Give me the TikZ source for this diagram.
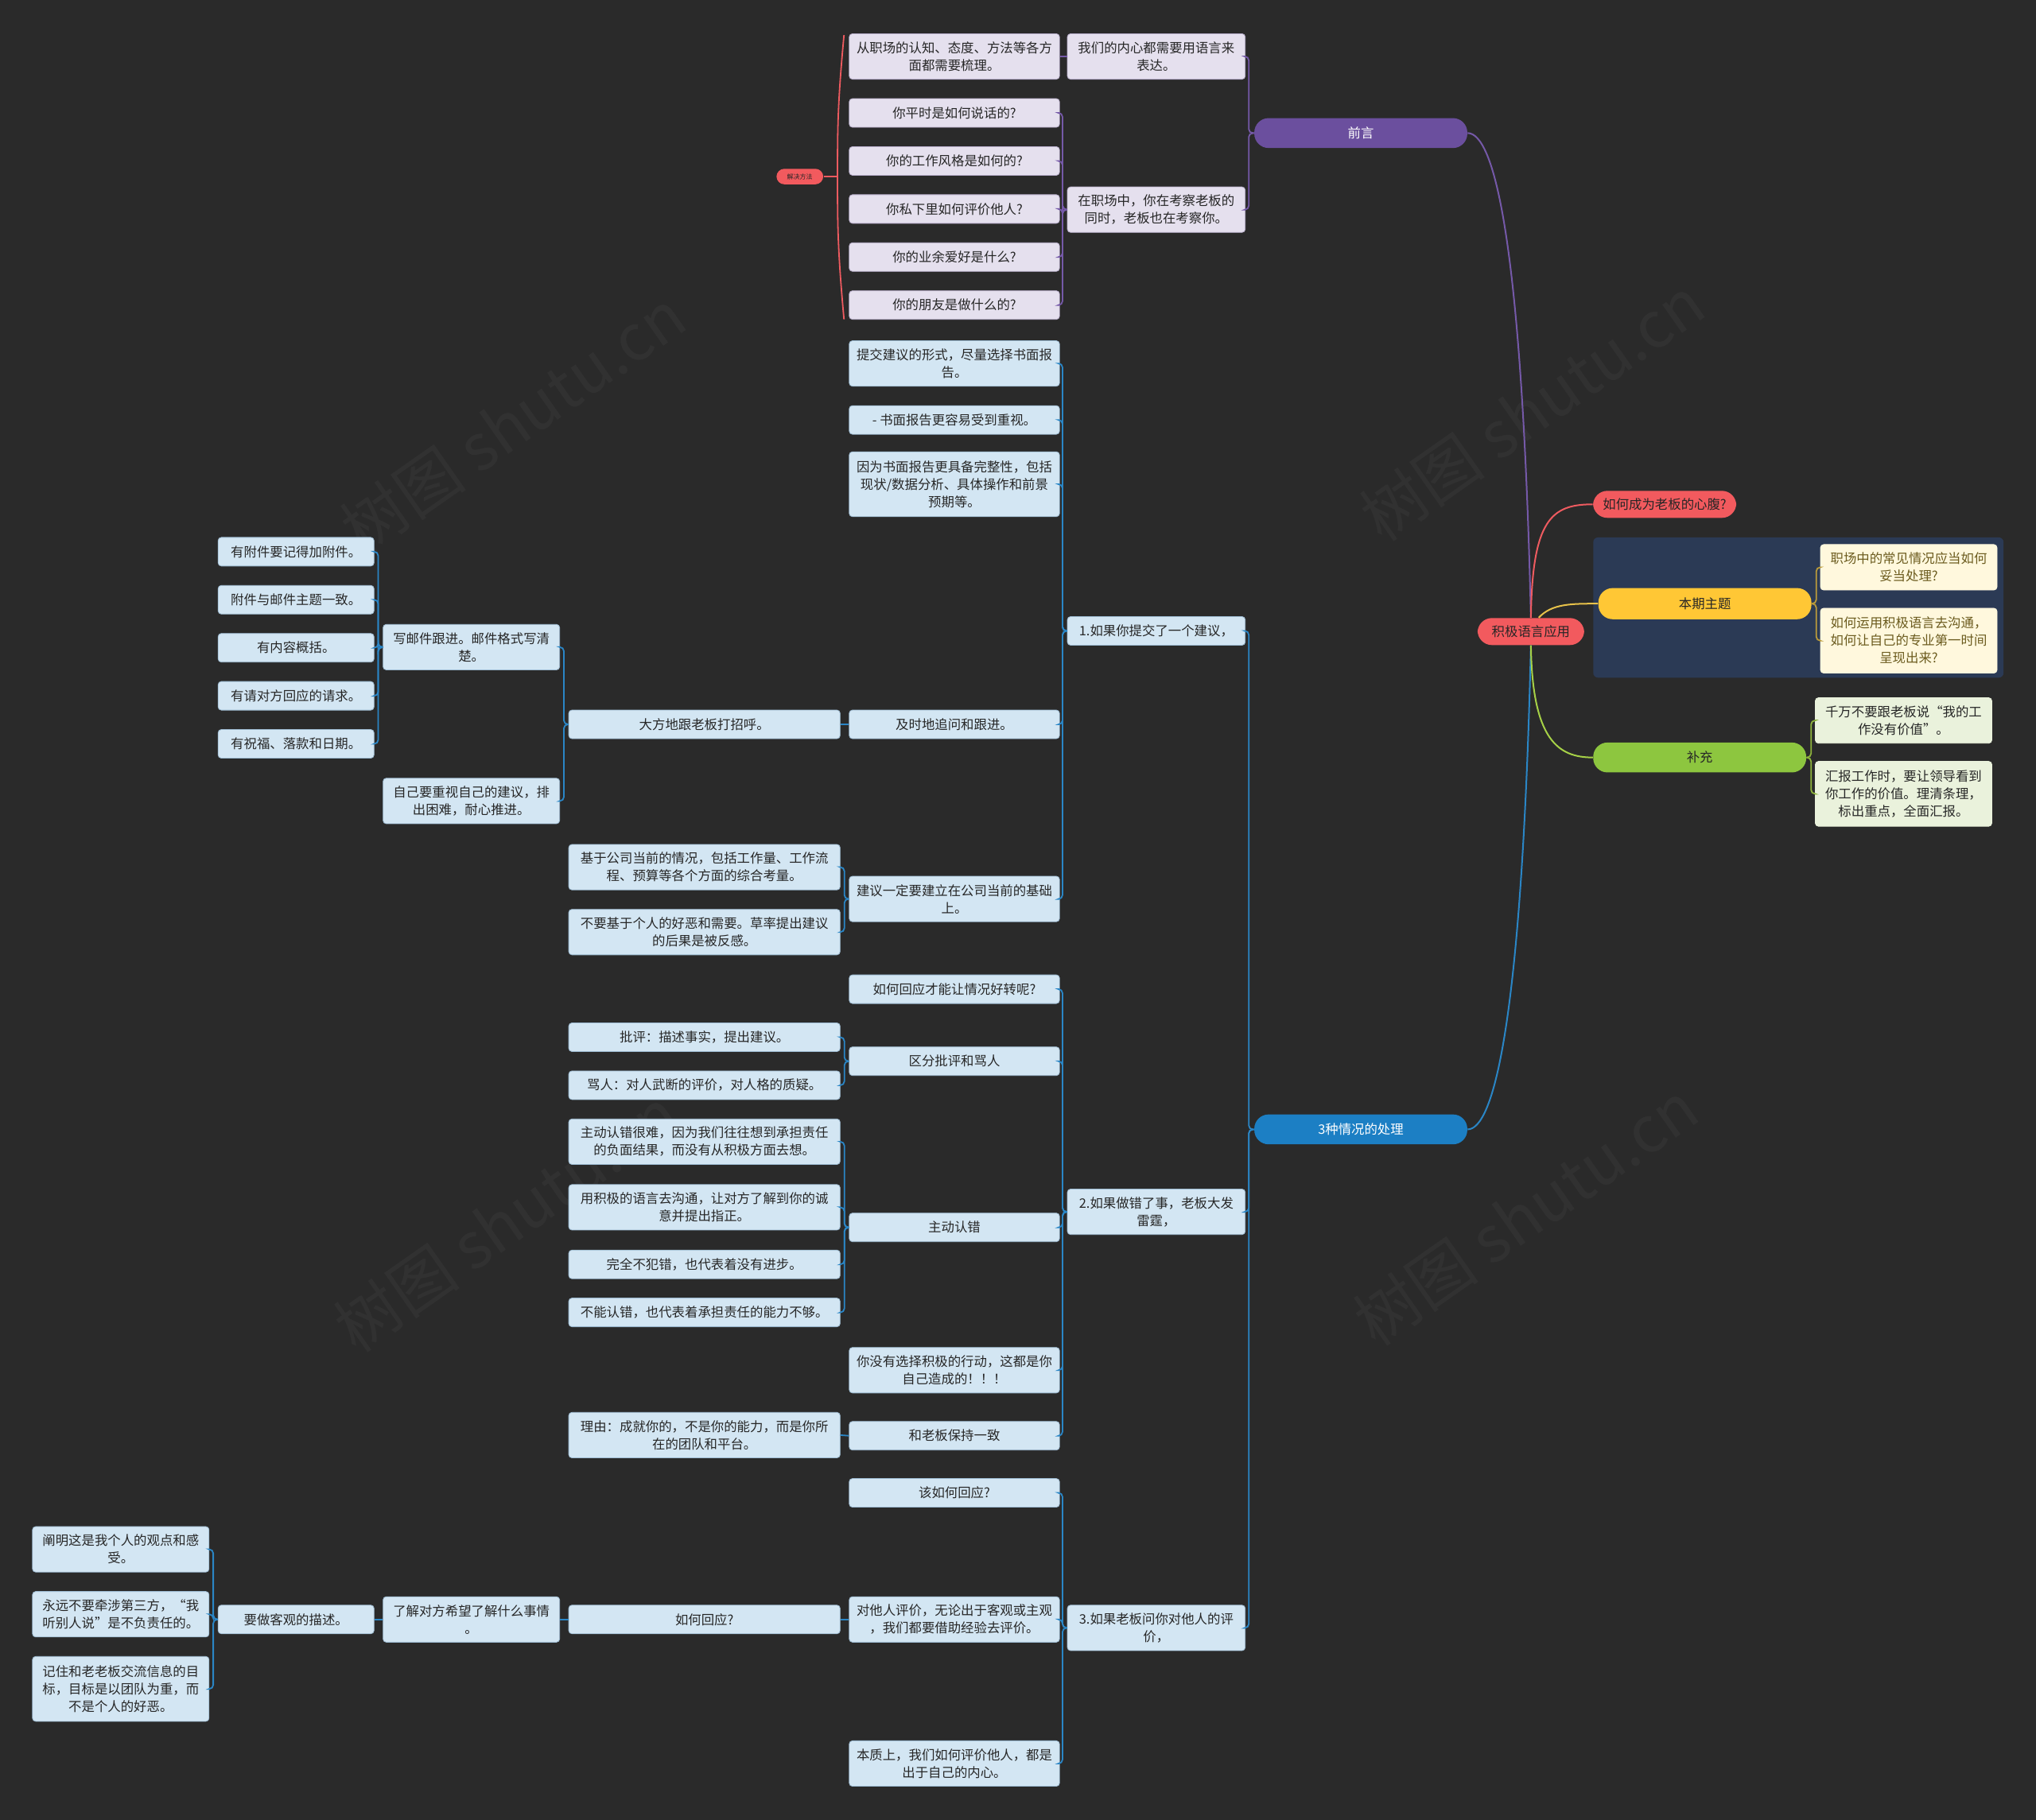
\documentclass[tikz,border=0pt]{standalone}
\usepackage{fontspec}
\setmainfont{Noto Sans CJK SC}
\usetikzlibrary{calc}
\definecolor{bg}{HTML}{2A2A2A}
\definecolor{lavfill}{HTML}{E5E0EE}
\definecolor{lavdraw}{HTML}{B8AECB}
\definecolor{bluefill}{HTML}{D3E6F3}
\definecolor{bluedraw}{HTML}{9DBBD2}
\definecolor{txt}{HTML}{262626}
\definecolor{purp}{HTML}{6B4F9E}
\definecolor{purpline}{HTML}{7559A8}
\definecolor{bluepill}{HTML}{1C7FC4}
\definecolor{blueline}{HTML}{2A86C6}
\definecolor{redpill}{HTML}{F25A5E}
\definecolor{redline}{HTML}{EE5B60}
\definecolor{yelpill}{HTML}{FFC735}
\definecolor{yelline}{HTML}{E8C24A}
\definecolor{grnpill}{HTML}{8DC63F}
\definecolor{grnline}{HTML}{A6D147}
\definecolor{navy}{HTML}{2B3A55}
\definecolor{cream}{HTML}{FFF8DD}
\definecolor{creamtxt}{HTML}{6B5B1E}
\definecolor{ltgreen}{HTML}{EAF2DC}
\begin{document}
\begin{tikzpicture}[x=0.8163pt,y=-0.8163pt,
  box/.style={rounded corners=2pt, minimum height=18pt, inner sep=1pt, align=center,
    font=\fontsize{8.2}{11}\selectfont, text=txt, line width=0.4pt},
  lav/.style={box, fill=lavfill, draw=lavdraw},
  lb/.style={box, fill=bluefill, draw=bluedraw},
  wA/.style={minimum width=132.2pt},
  wB/.style={minimum width=111.8pt},
  wC/.style={minimum width=170.6pt},
  wD/.style={minimum width=111pt},
  wE/.style={minimum width=98pt},
  hB/.style={minimum height=28.6pt},
  hC/.style={minimum height=40.8pt},
  pill/.style={rounded corners=9pt, minimum height=18.8pt, minimum width=133.9pt, inner sep=1pt,
    font=\fontsize{8.2}{11}\selectfont},
  pl/.style={draw=purpline, line width=0.9pt, rounded corners=2.5pt},
  bl/.style={draw=blueline, line width=0.9pt, rounded corners=2.5pt},
  wm/.style={text=white, opacity=0.035, rotate=35, font=\fontsize{40}{40}\selectfont}
]
\useasboundingbox (0,0) rectangle (1568,1402);
\fill[bg] (0,0) rectangle (1568,1402);

% watermarks
\node[wm] (wm1) at (395,325) {树图 shutu.cn};
\node[wm] (wm2) at (1180,315) {树图 shutu.cn};
\node[wm] (wm3) at (390,940) {树图 shutu.cn};
\node[wm] (wm4) at (1175,935) {树图 shutu.cn};

% ===== 前言 branch =====
\node[lav,wA,hB] (a1) at (735,43.5) {从职场的认知、态度、方法等各方\\面都需要梳理。};
\node[lav,wB,hB] (a0) at (890.5,43.5) {我们的内心都需要用语言来\\表达。};
\node[lav,wA] (q1) at (735,87) {你平时是如何说话的?};
\node[lav,wA] (q2) at (735,124) {你的工作风格是如何的?};
\node[lav,wA] (q3) at (735,161) {你私下里如何评价他人?};
\node[lav,wA] (q4) at (735,198) {你的业余爱好是什么?};
\node[lav,wA] (q5) at (735,235) {你的朋友是做什么的?};
\node[lav,wB,hB] (a2) at (890.5,161.5) {在职场中，你在考察老板的\\同时，老板也在考察你。};
\node[fill=redpill, rounded corners=5pt, minimum width=29.4pt, minimum height=9.8pt, inner sep=0pt,
  font=\fontsize{4}{5}\selectfont, text=txt] (sum) at (616,136) {解决方法};
\node[pill, fill=purp, text=white] (pre) at (1048,102.5) {前言};

\draw[pl] (pre.west) -- ++(-4,0) |- (a0.east);
\draw[pl] (pre.west) -- ++(-4,0) |- (a2.east);
\draw[pl] (a0.west) -- (a1.east);
\foreach \c in {q1,q2,q3,q4,q5} \draw[pl] (a2.west) -- ++(-3.5,0) |- (\c.east);
\draw[draw=redline, line width=0.9pt] (650,27) .. controls (645,80) and (645,100) .. (645,136)
   .. controls (645,172) and (645,192) .. (650,246);
\draw[draw=redline, line width=0.9pt] (sum.east) -- (645,136);

% ===== 3种情况的处理 branch =====
\node[pill, fill=bluepill, text=white] (situ) at (1048,870) {3种情况的处理};
\node[lb,wB] (s1) at (890.5,486) {1.如果你提交了一个建议，};
\node[lb,wB,hB] (s2) at (890.5,933.5) {2.如果做错了事，老板大发\\雷霆，};
\node[lb,wB,hB] (s3) at (890.5,1254) {3.如果老板问你对他人的评\\价，};

\node[lb,wA,hB] (b1) at (735,280) {提交建议的形式，尽量选择书面报\\告。};
\node[lb,wA] (b2) at (735,323.5) {- 书面报告更容易受到重视。};
\node[lb,wA,hC] (b3) at (735,373) {因为书面报告更具备完整性，包括\\现状/数据分析、具体操作和前景\\预期等。};
\node[lb,wA] (b4) at (735,558) {及时地追问和跟进。};
\node[lb,wA,hB] (b5) at (735,692.5) {建议一定要建立在公司当前的基础\\上。};
\node[lb,wC] (c1) at (542.5,558) {大方地跟老板打招呼。};
\node[lb,wD,hB] (d1) at (363,498.5) {写邮件跟进。邮件格式写清\\楚。};
\node[lb,wD,hB] (d2) at (363,617) {自己要重视自己的建议，排\\出困难，耐心推进。};
\node[lb,wE] (e1) at (228,425) {有附件要记得加附件。};
\node[lb,wE] (e2) at (228,462) {附件与邮件主题一致。};
\node[lb,wE] (e3) at (228,499) {有内容概括。};
\node[lb,wE] (e4) at (228,536) {有请对方回应的请求。};
\node[lb,wE] (e5) at (228,573) {有祝福、落款和日期。};
\node[lb,wC,hB] (f1) at (542.5,668) {基于公司当前的情况，包括工作量、工作流\\程、预算等各个方面的综合考量。};
\node[lb,wC,hB] (f2) at (542.5,718) {不要基于个人的好恶和需要。草率提出建议\\的后果是被反感。};

\node[lb,wA] (g1) at (735,762) {如何回应才能让情况好转呢?};
\node[lb,wA] (g2) at (735,817.5) {区分批评和骂人};
\node[lb,wA] (g3) at (735,945.5) {主动认错};
\node[lb,wA,hB] (g4) at (735,1055.5) {你没有选择积极的行动，这都是你\\自己造成的！！！};
\node[lb,wA] (g5) at (735,1106) {和老板保持一致};
\node[lb,wC] (h1) at (542.5,799) {批评：描述事实，提出建议。};
\node[lb,wC] (h2) at (542.5,836) {骂人：对人武断的评价，对人格的质疑。};
\node[lb,wC,hB] (i1) at (542.5,879.5) {主动认错很难，因为我们往往想到承担责任\\的负面结果，而没有从积极方面去想。};
\node[lb,wC,hB] (i2) at (542.5,930) {用积极的语言去沟通，让对方了解到你的诚\\意并提出指正。};
\node[lb,wC] (i3) at (542.5,974) {完全不犯错，也代表着没有进步。};
\node[lb,wC] (i4) at (542.5,1011) {不能认错，也代表着承担责任的能力不够。};
\node[lb,wC,hB] (j1) at (542.5,1105.5) {理由：成就你的，不是你的能力，而是你所\\在的团队和平台。};

\node[lb,wA] (k1) at (735,1150) {该如何回应?};
\node[lb,wA,hB] (k2) at (735,1247.5) {对他人评价，无论出于客观或主观\\，我们都要借助经验去评价。};
\node[lb,wA,hB] (k3) at (735,1358.5) {本质上，我们如何评价他人，都是\\出于自己的内心。};
\node[lb,wC] (l1) at (542.5,1247.5) {如何回应?};
\node[lb,wD,hB] (m1) at (363,1247.5) {了解对方希望了解什么事情\\。};
\node[lb,wE] (n1) at (228,1247.5) {要做客观的描述。};
\node[lb,wD,hB] (o1) at (93,1193.5) {阐明这是我个人的观点和感\\受。};
\node[lb,wD,hB] (o2) at (93,1243.5) {永远不要牵涉第三方，“我\\听别人说”是不负责任的。};
\node[lb,wD,hC] (o3) at (93,1301) {记住和老老板交流信息的目\\标，目标是以团队为重，而\\不是个人的好恶。};

\foreach \c in {s1,s2,s3} \draw[bl] (situ.west) -- ++(-4,0) |- (\c.east);
\foreach \c in {b1,b2,b3,b4,b5} \draw[bl] (s1.west) -- ++(-3.5,0) |- (\c.east);
\draw[bl] (b4.west) -- (c1.east);
\foreach \c in {d1,d2} \draw[bl] (c1.west) -- ++(-3.5,0) |- (\c.east);
\foreach \c in {e1,e2,e3,e4,e5} \draw[bl] (d1.west) -- ++(-3.5,0) |- (\c.east);
\foreach \c in {f1,f2} \draw[bl] (b5.west) -- ++(-3.5,0) |- (\c.east);
\foreach \c in {g1,g2,g3,g4,g5} \draw[bl] (s2.west) -- ++(-3.5,0) |- (\c.east);
\foreach \c in {h1,h2} \draw[bl] (g2.west) -- ++(-3.5,0) |- (\c.east);
\foreach \c in {i1,i2,i3,i4} \draw[bl] (g3.west) -- ++(-3.5,0) |- (\c.east);
\draw[bl] (g5.west) -- (j1.east);
\foreach \c in {k1,k2,k3} \draw[bl] (s3.west) -- ++(-3.5,0) |- (\c.east);
\draw[bl] (k2.west) -- (l1.east);
\draw[bl] (l1.west) -- (m1.east);
\draw[bl] (m1.west) -- (n1.east);
\foreach \c in {o1,o2,o3} \draw[bl] (n1.west) -- ++(-3.5,0) |- (\c.east);

% ===== right side =====
\fill[navy, rounded corners=3pt] (1227,414) rectangle (1543,522);
\node[pill, fill=redpill, text=txt, minimum width=67pt, minimum height=17pt] (root) at (1179,486.5) {积极语言应用};
\node[pill, fill=redpill, text=txt, minimum width=90pt, minimum height=17pt] (heart) at (1282,388.5) {如何成为老板的心腹?};
\node[pill, fill=yelpill, text=txt, minimum height=19.6pt] (theme) at (1313,465) {本期主题};
\node[box, fill=cream, draw=cream, text=creamtxt, wD, hB] (t1) at (1470,437) {职场中的常见情况应当如何\\妥当处理?};
\node[box, fill=cream, draw=cream, text=creamtxt, wD, hC] (t2) at (1470,493.5) {如何运用积极语言去沟通，\\如何让自己的专业第一时间\\呈现出来?};
\node[pill, fill=grnpill, text=txt] (supp) at (1309,583.5) {补充};
\node[box, fill=ltgreen, draw=ltgreen, wD, hB] (u1) at (1466,555) {千万不要跟老板说“我的工\\作没有价值”。};
\node[box, fill=ltgreen, draw=ltgreen, wD, hC] (u2) at (1466,611.5) {汇报工作时，要让领导看到\\你工作的价值。理清条理，\\标出重点，全面汇报。};

\draw[draw=purpline, line width=1pt] (root.north) .. controls (1172,180) and (1150,102.5) .. (pre.east);
\draw[draw=blueline, line width=1pt] (root.south) .. controls (1172,790) and (1150,870) .. (situ.east);
\draw[draw=redline, line width=1pt] (root.north) .. controls (1180,400) and (1195,388.5) .. (heart.west);
\draw[draw=yelline, line width=1pt] ($(root.north)+(6,0)$) .. controls (1195,465) and (1210,465) .. (theme.west);
\draw[draw=grnline, line width=1pt] (root.south) .. controls (1180,570) and (1200,583.5) .. (supp.west);

\foreach \c in {t1,t2} \draw[draw=yelline!80!black, line width=0.9pt, rounded corners=2.5pt] (theme.east) -- ++(3.5,0) |- (\c.west);
\foreach \c in {u1,u2} \draw[draw=grnline!85!black, line width=0.9pt, rounded corners=2.5pt] (supp.east) -- ++(3.5,0) |- (\c.west);
\end{tikzpicture}
\end{document}
